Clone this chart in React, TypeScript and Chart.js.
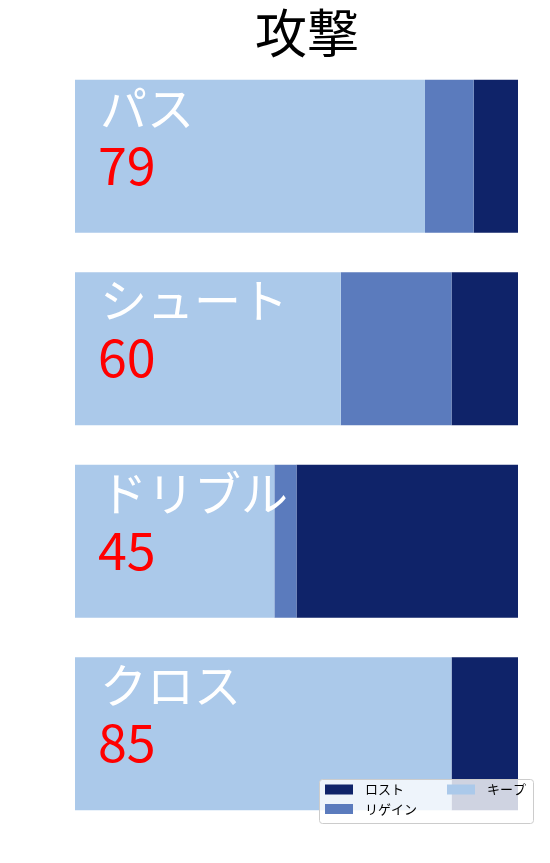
import React, { useEffect, useRef } from "react";
import { Chart, registerables } from "chart.js";

Chart.register(...registerables);

const title = "攻撃";
const categories = ["パス", "シュート", "ドリブル", "クロス"];
const scores = [79, 60, 45, 85];
const keepValues = [79, 60, 45, 85];
const regainValues = [11, 25, 5, 0];
const lostValues = [10, 15, 50, 15];
const seriesNames = ["キープ", "リゲイン", "ロスト"];
const seriesColors = ["#abc9ea", "#5b7bbd", "#0f2369"];

const FONT = '"Noto Sans CJK JP", "Noto Sans", sans-serif';

const overlayPlugin = {
  id: "overlay",
  afterDatasetsDraw(chart: any) {
    const ctx = chart.ctx as CanvasRenderingContext2D;
    const meta = chart.getDatasetMeta(0);
    ctx.save();
    meta.data.forEach((el: any, i: number) => {
      const top = el.y - el.height / 2;
      const x = chart.scales.x.getPixelForValue(0) + 25;
      ctx.textAlign = "left";
      ctx.textBaseline = "alphabetic";
      ctx.font = `47px ${FONT}`;
      ctx.fillStyle = "#ffffff";
      ctx.fillText(categories[i], x, top + 46);
      ctx.fillStyle = "#ff0000";
      ctx.font = `52px ${FONT}`;
      ctx.fillText(String(scores[i]), x - 2, top + 105);
    });
    ctx.restore();
  },
  afterDraw(chart: any) {
    const ctx = chart.ctx as CanvasRenderingContext2D;
    ctx.save();
    // title
    ctx.font = `52px ${FONT}`;
    ctx.fillStyle = "#000000";
    ctx.textAlign = "center";
    ctx.textBaseline = "middle";
    ctx.fillText(title, 307, 33);

    // legend
    const bx = 319.5, by = 779.5, bw = 214, bh = 44;
    ctx.beginPath();
    const r = 3;
    ctx.moveTo(bx + r, by);
    ctx.lineTo(bx + bw - r, by);
    ctx.quadraticCurveTo(bx + bw, by, bx + bw, by + r);
    ctx.lineTo(bx + bw, by + bh - r);
    ctx.quadraticCurveTo(bx + bw, by + bh, bx + bw - r, by + bh);
    ctx.lineTo(bx + r, by + bh);
    ctx.quadraticCurveTo(bx, by + bh, bx, by + bh - r);
    ctx.lineTo(bx, by + r);
    ctx.quadraticCurveTo(bx, by, bx + r, by);
    ctx.closePath();
    ctx.fillStyle = "rgba(255,255,255,0.8)";
    ctx.fill();
    ctx.strokeStyle = "#cccccc";
    ctx.lineWidth = 1;
    ctx.stroke();

    const items = [
      { name: seriesNames[2], color: seriesColors[2], px: 325, tx: 365, y: 789.5 },
      { name: seriesNames[1], color: seriesColors[1], px: 325, tx: 365, y: 809 },
      { name: seriesNames[0], color: seriesColors[0], px: 447, tx: 487, y: 789.5 },
    ];
    ctx.font = `13px ${FONT}`;
    ctx.textAlign = "left";
    ctx.textBaseline = "middle";
    items.forEach((it) => {
      ctx.fillStyle = it.color;
      ctx.fillRect(it.px, it.y - 5, 28, 10);
      ctx.fillStyle = "#000000";
      ctx.fillText(it.name, it.tx, it.y);
    });
    ctx.restore();
  },
};

export default function App() {
  const ref = useRef<HTMLCanvasElement | null>(null);
  useEffect(() => {
    if (!ref.current) return;
    const chart = new Chart(ref.current, {
      type: "bar",
      data: {
        labels: categories,
        datasets: [
          { label: seriesNames[0], data: keepValues, backgroundColor: seriesColors[0] },
          { label: seriesNames[1], data: regainValues, backgroundColor: seriesColors[1] },
          { label: seriesNames[2], data: lostValues, backgroundColor: seriesColors[2] },
        ],
      },
      options: {
        indexAxis: "y",
        responsive: false,
        animation: false,
        devicePixelRatio: 1,
        layout: { padding: { left: 75, right: 32, top: 60, bottom: 33 } },
        datasets: { bar: { barPercentage: 0.795, categoryPercentage: 1, borderWidth: 0 } },
        scales: {
          x: { stacked: true, min: 0, max: 100, display: false },
          y: { stacked: true, display: false },
        },
        plugins: { legend: { display: false }, tooltip: { enabled: false }, title: { display: false } },
      },
      plugins: [overlayPlugin],
    } as any);
    return () => chart.destroy();
  }, []);
  return (
    <div style={{ position: "absolute", left: 0, top: 0, width: 550, height: 863 }}>
      <canvas ref={ref} width={550} height={863} style={{ display: "block" }} />
    </div>
  );
}
